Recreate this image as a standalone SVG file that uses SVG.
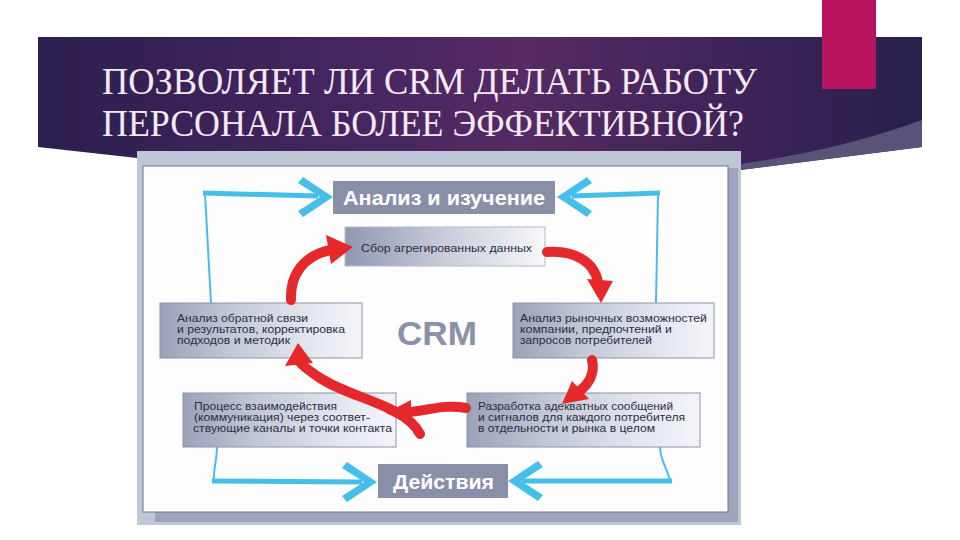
<svg xmlns="http://www.w3.org/2000/svg" width="960" height="540" viewBox="0 0 960 540">
<defs>
<linearGradient id="ban" x1="0" y1="0" x2="1" y2="0">
<stop offset="0" stop-color="#2c1f4e"/>
<stop offset="0.35" stop-color="#452560"/>
<stop offset="0.55" stop-color="#562a63"/>
<stop offset="0.8" stop-color="#3c2358"/>
<stop offset="1" stop-color="#28204c"/>
</linearGradient>
<linearGradient id="boxg" x1="0" y1="0" x2="1" y2="0">
<stop offset="0" stop-color="#9aa1ba"/>
<stop offset="0.35" stop-color="#c3c8d7"/>
<stop offset="0.75" stop-color="#e4e7ef"/>
<stop offset="1" stop-color="#f3f4f8"/>
</linearGradient>
<linearGradient id="sborg" x1="0" y1="0" x2="1" y2="0">
<stop offset="0" stop-color="#9097b2"/>
<stop offset="0.5" stop-color="#c9cdda"/>
<stop offset="1" stop-color="#f7f8fa"/>
</linearGradient>
<polygon id="chev" points="0,0 -30,-20 -35,-14 -13,0 -35,14 -30,20"/>
</defs>
<style>
.title{font-family:"Liberation Serif","Times New Roman",serif;font-size:37px;fill:#f4e9f2}
.hdr{fill:#8a8fa8}
.hdrt{font-family:"Liberation Sans",Arial,sans-serif;font-weight:bold;font-size:20px;fill:#ffffff}
.box{fill:url(#boxg);stroke:#8d93a9;stroke-width:1}
.t{font-family:"Liberation Sans",Arial,sans-serif;font-size:10.5px;fill:#2b2f42}
.thin{fill:none;stroke:#45bfe9;stroke-width:2}
.thick{fill:none;stroke:#45bfe9;stroke-width:5}
.bh{fill:#45bfe9}
.red{fill:none;stroke:#e5282b;stroke-width:10;stroke-linecap:round}
.rh{fill:#e5282b}
</style>
<rect width="960" height="540" fill="#ffffff"/>
<g id="banner">
<path d="M38 37 H922 V147 L740 170 Q440 175 137 158 L38 147 Z" fill="url(#ban)"/>
<path d="M922 120 Q840 150 740 164 L740 170 L922 147 Z" fill="#5b5377"/>
<rect x="822" y="0" width="54" height="89" fill="#b8135f"/>
<text class="title" x="102" y="94" textLength="655" lengthAdjust="spacingAndGlyphs">ПОЗВОЛЯЕТ ЛИ CRM ДЕЛАТЬ РАБОТУ</text>
<text class="title" x="102" y="136" textLength="642" lengthAdjust="spacingAndGlyphs">ПЕРСОНАЛА БОЛЕЕ ЭФФЕКТИВНОЙ?</text>
</g>
<g id="frame">
<rect x="137" y="151" width="604" height="374" fill="#bfc7d7"/>
<rect x="155" y="505" width="583" height="17" fill="#9ea3bb"/>
<rect x="726" y="168" width="12" height="354" fill="#9ea3bb"/>
<rect x="143" y="166" width="585" height="346" fill="#fdfdfd" stroke="#6e7488" stroke-width="1"/>
</g>
<g id="connectors">
<path class="thin" d="M211 303 L205 194"/>
<path class="thick" d="M203 193 L318 196"/>
<use href="#chev" class="bh" transform="translate(333 197)"/>
<path class="thin" d="M656 303 L658 194"/>
<path class="thick" d="M660 193 L572 196"/>
<use href="#chev" class="bh" transform="translate(557 197) rotate(180)"/>
<path class="thin" d="M217 447 C217 460 213 470 214 481"/>
<path class="thick" d="M212 481 L362 482"/>
<use href="#chev" class="bh" transform="translate(377 482)"/>
<path class="thin" d="M660 447 C660 460 668 470 670 481"/>
<path class="thick" d="M672 481 L522 481"/>
<use href="#chev" class="bh" transform="translate(508 481) rotate(180)"/>
</g>
<g id="n-analiz">
<rect class="hdr" x="333" y="181" width="222" height="33"/>
<text class="hdrt" x="343" y="205" textLength="202" lengthAdjust="spacingAndGlyphs">Анализ и изучение</text>
</g>
<g id="n-sbor">
<rect x="345" y="227" width="200" height="39" fill="url(#sborg)" stroke="#b5bacb" stroke-width="1"/>
<text class="t" x="361" y="252" textLength="171" lengthAdjust="spacingAndGlyphs">Сбор агрегированных данных</text>
</g>
<g id="n-feedback">
<rect class="box" x="160" y="303" width="202" height="55"/>
<text class="t" x="177" y="322" textLength="131" lengthAdjust="spacingAndGlyphs">Анализ обратной связи</text>
<text class="t" x="177" y="333" textLength="168" lengthAdjust="spacingAndGlyphs">и результатов, корректировка</text>
<text class="t" x="177" y="344" textLength="113" lengthAdjust="spacingAndGlyphs">подходов и методик</text>
</g>
<g id="n-market">
<rect class="box" x="513" y="303" width="201" height="55"/>
<text class="t" x="520" y="322" textLength="187" lengthAdjust="spacingAndGlyphs">Анализ рыночных возможностей</text>
<text class="t" x="520" y="333" textLength="152" lengthAdjust="spacingAndGlyphs">компании, предпочтений и</text>
<text class="t" x="520" y="344" textLength="132" lengthAdjust="spacingAndGlyphs">запросов потребителей</text>
</g>
<g id="n-process">
<rect class="box" x="183" y="393" width="213" height="54"/>
<text class="t" x="194" y="410" textLength="143" lengthAdjust="spacingAndGlyphs">Процесс взаимодействия</text>
<text class="t" x="194" y="421" textLength="176" lengthAdjust="spacingAndGlyphs">(коммуникация) через соответ-</text>
<text class="t" x="193" y="432" textLength="199" lengthAdjust="spacingAndGlyphs">ствующие каналы и точки контакта</text>
</g>
<g id="n-develop">
<rect class="box" x="467" y="393" width="233" height="54"/>
<text class="t" x="478" y="410" textLength="195" lengthAdjust="spacingAndGlyphs">Разработка адекватных сообщений</text>
<text class="t" x="478" y="421" textLength="207" lengthAdjust="spacingAndGlyphs">и сигналов для каждого потребителя</text>
<text class="t" x="478" y="432" textLength="177" lengthAdjust="spacingAndGlyphs">в отдельности и рынка в целом</text>
</g>
<g id="n-crm">
<text x="397" y="345" font-family="Liberation Sans,Arial,sans-serif" font-weight="bold" font-size="33" fill="#8a90a8" textLength="80" lengthAdjust="spacingAndGlyphs">CRM</text>
</g>
<g id="n-deistviya">
<rect class="hdr" x="378" y="464" width="130" height="34"/>
<text class="hdrt" x="393" y="489" textLength="101" lengthAdjust="spacingAndGlyphs">Действия</text>
</g>
<g id="red-arrows">
<path class="red" d="M291 300 C290 275 303 256 330 250"/>
<polygon class="rh" points="353,247 326,235 331,264"/>
<path class="red" d="M547 252 C575 250 594 262 598 282"/>
<polygon class="rh" points="601,303 587,279 613,281"/>
<path class="red" d="M592 360 C595 372 590 384 578 392"/>
<polygon class="rh" points="562,404 572,381 589,399"/>
<path class="red" d="M466 408 C445 404 430 410 410 412"/>
<polygon class="rh" points="386,413 411,400 411,425"/>
<path class="red" d="M420 434 C405 405 350 398 320 378 C308 370 302 365 300 362"/>
<polygon class="rh" points="298,343 285,366 313,363"/>
</g>
</svg>
